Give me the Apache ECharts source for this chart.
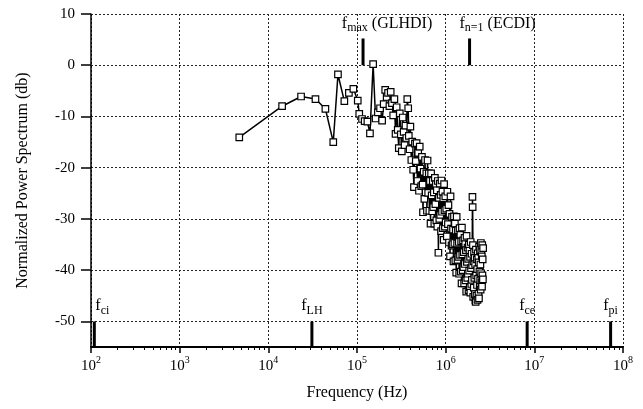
<!DOCTYPE html>
<html>
<head>
<meta charset="utf-8">
<script src="https://cdn.jsdelivr.net/npm/echarts@6/dist/echarts.min.js"></script>
<style>html,body{margin:0;padding:0;background:#fff}#c{width:643px;height:409px}</style>
</head>
<body>
<div id="c"></div>
<script>
// ---- data (frequency in kHz, power in dB) ----
const freqKHz = [
  4.7, 14.3, 23.4, 34, 44, 54, 61, 72, 81, 91, 102, 106, 114, 122, 131, 140, 152,
  162, 172, 182, 192, 200, 208, 216, 224, 232, 240, 248, 256, 264, 272, 280, 288, 296, 304, 312, 320,
  328, 336, 344, 352, 360, 369, 378, 384, 392,
  400, 410, 420, 430, 439, 450, 460, 470, 480, 490, 500, 510, 520, 530, 540, 550, 555, 565, 575, 585, 595,
  605, 615, 625, 635, 645, 655, 665, 675, 685, 695, 705, 715, 725, 735, 745, 755, 765, 775, 785, 795,
  805, 815, 828, 838, 848, 858, 868, 878, 888, 898, 910, 920, 930, 940, 950, 960, 970, 980, 990, 1000,
  1015, 1030, 1045, 1060, 1075, 1090, 1105, 1120, 1135, 1150, 1165, 1180, 1195, 1210, 1225, 1240, 1255,
  1270, 1285, 1300, 1315, 1330, 1345, 1360, 1375, 1390, 1405, 1420, 1435, 1450, 1465, 1480, 1495, 1510,
  1525, 1540, 1555, 1570, 1585, 1600, 1615, 1630, 1645, 1660, 1675, 1690, 1705, 1720, 1735, 1750, 1765,
  1780, 1795, 1810, 1825, 1840, 1855, 1870, 1885, 1900, 1915, 1930, 1945, 1960, 1975, 1990, 2005, 2015,
  2030, 2045, 2060, 2075, 2090, 2105, 2120, 2135, 2150, 2165, 2180, 2195, 2210, 2225, 2240, 2255, 2270,
  2285, 2300, 2315, 2330, 2345, 2360, 2375, 2390, 2405, 2420, 2435, 2450, 2465, 2480, 2495, 2510, 2525,
  2540, 2555, 2570, 2585, 2600, 2615, 2630, 2645
];
const powerDb = [
  -14.1, -8.0, -6.1, -6.6, -8.5, -15.0, -1.8, -7.0, -5.4, -4.6, -6.9, -9.5, -10.5, -10.9, -11.0, -13.3, 0.2,
  -10.4, -9.2, -8.4, -10.8, -7.6, -4.8, -6.2, -5.4, -8.0, -5.2, -7.4, -9.8, -6.6, -13.4, -8.2, -12.6, -16.2, -9.4, -13.5, -16.8,
  -10.2, -13.0, -15.6, -11.8, -14.2, -6.6, -8.4, -13.8, -16.4,
  -12.0, -18.5, -14.9, -20.4, -23.8, -15.3, -18.7, -15.2, -22.6, -17.1, -24.5, -15.9, -20.2, -23.6, -17.9, -23.3, -28.7, -20.8, -26.1, -18.5, -24.8,
  -21.1, -28.4, -18.6, -24.9, -21.1, -28.4, -22.6, -30.9, -21.1, -25.4, -28.5, -22.6, -27.7, -24.8, -30.9, -22.0, -27.1, -23.2, -30.3, -24.4,
  -31.5, -22.6, -36.6, -25.9, -30.0, -23.1, -29.2, -25.3, -32.4, -22.5, -28.6, -24.7, -31.8, -26.0, -34.1, -23.2, -28.3, -31.5, -25.6, -30.7,
  -28.0, -33.4, -24.7, -31.0, -27.3, -34.6, -29.0, -37.3, -25.6, -31.9, -35.2, -29.6, -34.9, -32.1, -38.3, -29.5, -34.7,
  -30.9, -38.1, -32.3, -40.5, -29.6, -34.8, -38.0, -32.2, -37.4, -34.5, -40.7, -31.8, -37.0, -33.1, -40.3, -34.4, -42.6,
  -31.7, -36.9, -40.0, -34.2, -39.4, -36.5, -42.6, -33.7, -38.8, -34.9, -42.0, -36.1, -44.2, -33.3, -38.4, -41.5, -35.6,
  -40.7, -37.8, -43.9, -35.0, -40.1, -36.2, -43.3, -37.4, -44.4, -34.5, -39.6, -42.7, -36.8, -41.9, -39.0, -25.7, -27.7,
  -35.1, -45.2, -38.3, -43.4, -36.5, -41.5, -37.6, -44.7, -38.8, -45.9, -46.2, -36.0, -41.0, -45.0, -37.9, -42.9, -39.8,
  -45.8, -36.7, -41.7, -37.6, -44.6, -38.5, -45.5, -35.4, -40.3, -43.2, -36.1, -42.0, -38.9, -43.8, -34.7, -40.6, -36.5,
  -42.4, -37.3, -43.2, -35.1, -41.0, -37.9, -41.8, -35.7
];
const xTickValues = [1e2, 1e3, 1e4, 1e5, 1e6, 1e7, 1e8];
const xTickExps = ['2', '3', '4', '5', '6', '7', '8'];
const yTickValues = [-50, -40, -30, -20, -10, 0, 10];
const refFreqsBottom = [109, 3.1e4, 8.3e6, 7.25e7];
const refNamesBottom = ['ci', 'LH', 'ce', 'pi'];
const refFreqsTop = [1.17e5, 1.86e6];
const refNamesTop = ['max', 'n=1'];
const refSuffixTop = [' (GLHDI)', ' (ECDI)'];

// ---- chart ----
const FONT = '"Liberation Serif", "DejaVu Serif", serif';
const dotted = { type: [2, 2], color: '#222', width: 1 };
const minorTicks = [];
for (let k = 2; k < 8; k++) for (let d = 2; d <= 9; d++) minorTicks.push(d * Math.pow(10, k));

const rich = {
  f: { fontFamily: FONT, fontSize: 16, color: '#000', lineHeight: 22 },
  s: { fontFamily: FONT, fontSize: 12, color: '#000', verticalAlign: 'bottom' },
  t: { fontFamily: FONT, fontSize: 16, color: '#000', lineHeight: 22 }
};

const series = [{
  type: 'line',
  data: freqKHz.map((f, i) => [f * 1000, powerDb[i]]),
  symbol: 'rect', symbolSize: 6.5, showAllSymbol: true,
  lineStyle: { color: '#000', width: 1.5 },
  itemStyle: { color: '#fff', borderColor: '#000', borderWidth: 1.2 },
  z: 5
}];

refFreqsBottom.forEach((f, i) => {
  series.push({ type: 'line', data: [[f, -50], [f, -55]], symbol: 'none',
    lineStyle: { color: '#000', width: 3 }, z: 6, silent: true });
  series.push({ type: 'scatter', data: [[f, -50]], symbolSize: 0.5,
    itemStyle: { color: '#000', opacity: 1 }, z: 7, silent: true,
    label: { show: true, color: '#000', opacity: 1, position: 'top', distance: 4, offset: [i === 0 ? 8 : 0, 0],
      formatter: '{f|f}{s|' + refNamesBottom[i] + '}', rich: rich } });
});
refFreqsTop.forEach((f, i) => {
  series.push({ type: 'line', data: [[f, 0], [f, 5.2]], symbol: 'none',
    lineStyle: { color: '#000', width: 3 }, z: 6, silent: true });
  series.push({ type: 'scatter', data: [[f, 5.2]], symbolSize: 0.5,
    itemStyle: { color: '#000', opacity: 1 }, z: 7, silent: true,
    label: { show: true, color: '#000', opacity: 1, position: 'top', distance: 4, offset: [i === 0 ? 24 : 28, 0],
      formatter: '{f|f}{s|' + refNamesTop[i] + '}{t|' + refSuffixTop[i] + '}', rich: rich } });
});

const chart = echarts.init(document.getElementById('c'));
chart.setOption({
  animation: false,
  backgroundColor: '#fff',
  grid: { left: 91, right: 20, top: 14, bottom: 62 },
  xAxis: [{
    type: 'log', logBase: 10, min: 1e2, max: 1e8,
    axisLine: { show: true, onZero: false, lineStyle: { color: '#000', width: 2 } },
    axisTick: { show: true, length: 6, customValues: xTickValues, lineStyle: { color: '#000', width: 1.5 } },
    axisLabel: { customValues: xTickValues, margin: 8,
      formatter: (v) => '{b|10}{e|' + xTickExps[xTickValues.findIndex(t => Math.abs(t - v) / t < 1e-6)] + '}',
      rich: { b: { fontFamily: FONT, fontSize: 15, color: '#000', lineHeight: 22 },
              e: { fontFamily: FONT, fontSize: 10, color: '#000', verticalAlign: 'top' } } },
    splitLine: { show: true, lineStyle: dotted },
    name: 'Frequency (Hz)', nameLocation: 'middle', nameGap: 38,
    nameTextStyle: { fontFamily: FONT, fontSize: 16, color: '#000' }
  }, {
    type: 'log', logBase: 10, min: 1e2, max: 1e8, position: 'bottom', gridIndex: 0,
    axisLine: { show: false, onZero: false },
    axisTick: { show: true, length: 3, customValues: minorTicks, lineStyle: { color: '#000', width: 1 } },
    axisLabel: { show: false },
    splitLine: { show: false }
  }],
  yAxis: {
    type: 'value', min: -55, max: 10,
    axisLine: { show: true, onZero: false, lineStyle: { color: '#000', width: 1.5 } },
    axisTick: { show: true, length: 10, customValues: yTickValues, lineStyle: { color: '#000', width: 1.5 } },
    axisLabel: { customValues: yTickValues, margin: 16, fontFamily: FONT, fontSize: 15, color: '#000' },
    splitLine: { show: true, lineStyle: dotted },
    name: 'Normalized Power Spectrum (db)', nameLocation: 'middle', nameGap: 60,
    nameTextStyle: { fontFamily: FONT, fontSize: 16, color: '#000' }
  },
  series: series
});
</script>
</body>
</html>
